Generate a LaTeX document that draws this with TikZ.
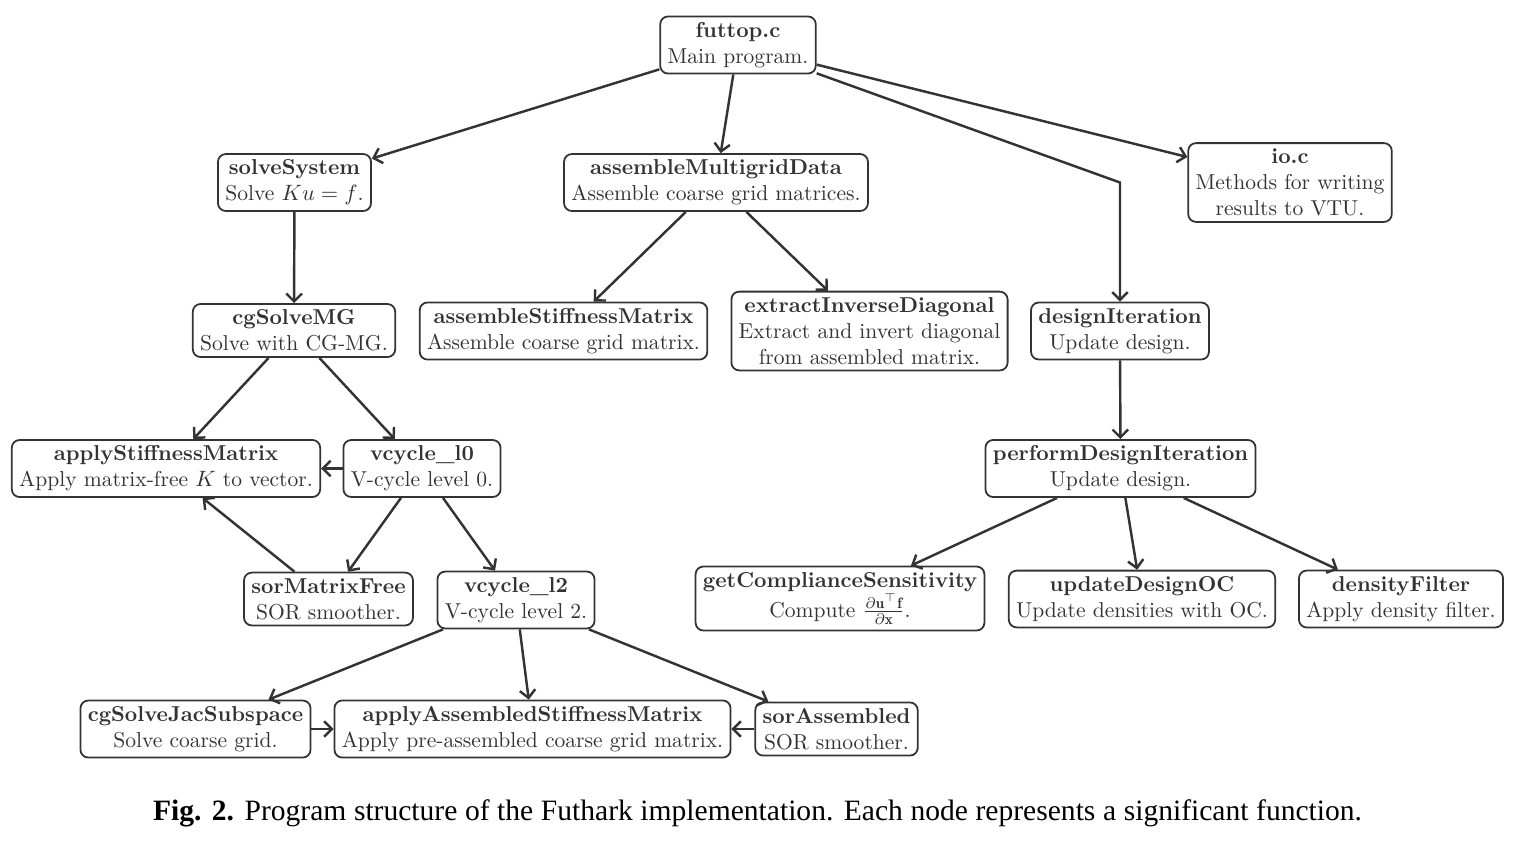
\documentclass[tikz,border=0pt]{standalone}
\usepackage{fontspec}
\usepackage{amsmath}
\newfontfamily\capfont{Liberation Serif}
\usetikzlibrary{arrows.meta}
\definecolor{ink}{HTML}{333333}
\begin{document}
\begin{tikzpicture}[x=0.45pt,y=-0.45pt,
  fn/.style={draw=ink, line width=0.8pt, rounded corners=3.5pt, align=center,
    text=ink, inner xsep=3.3pt, inner ysep=2.6pt, font=\fontsize{9.7}{11.7}\selectfont},
  link/.style={draw=ink, line width=1.1pt, -{Straight Barb[length=3.5pt,width=7pt]}}]
\useasboundingbox (0,0) rectangle (1520,852);
\node[fn] (futtop) at (738,45) {\textbf{futtop.c}\\Main program.};
\node[fn] (solve) at (294.5,182.5) {\textbf{solveSystem}\\Solve $Ku=f$.};
\node[fn] (amd) at (716,182.5) {\textbf{assembleMultigridData}\\Assemble coarse grid matrices.};
\node[fn] (io) at (1290,182.5) {\textbf{io.c}\\Methods for writing\\results to VTU.};
\node[fn] (cgmg) at (294,330.5) {\textbf{cgSolveMG}\\Solve with CG-MG.};
\node[fn] (asm) at (563.5,331) {\textbf{assembleStiffnessMatrix}\\Assemble coarse grid matrix.};
\node[fn] (eid) at (869.5,331) {\textbf{extractInverseDiagonal}\\Extract and invert diagonal\\from assembled matrix.};
\node[fn] (di) at (1120,331) {\textbf{designIteration}\\Update design.};
\node[fn] (asmf) at (166,468.5) {\textbf{applyStiffnessMatrix}\\Apply matrix-free $K$ to vector.};
\node[fn] (v0) at (422,468.5) {\textbf{vcycle\_l0}\\V-cycle level 0.};
\node[fn] (pdi) at (1120.5,468.5) {\textbf{performDesignIteration}\\Update design.};
\node[fn] (sorf) at (328.5,599) {\textbf{sorMatrixFree}\\SOR smoother.};
\node[fn] (v2) at (516,600) {\textbf{vcycle\_l2}\\V-cycle level 2.};
\node[fn] (gcs) at (840,598.5) {\textbf{getComplianceSensitivity}\\Compute $\frac{\partial\mathbf{u}^{\top}\mathbf{f}}{\partial\mathbf{x}}$.};
\node[fn] (udoc) at (1142,599) {\textbf{updateDesignOC}\\Update densities with OC.};
\node[fn] (dfil) at (1401,599) {\textbf{densityFilter}\\Apply density filter.};
\node[fn] (cgjs) at (195.5,729) {\textbf{cgSolveJacSubspace}\\Solve coarse grid.};
\node[fn] (aasm) at (532.5,729) {\textbf{applyAssembledStiffnessMatrix}\\Apply pre-assembled coarse grid matrix.};
\node[fn] (sora) at (836.5,729) {\textbf{sorAssembled}\\SOR smoother.};
\coordinate (bend) at (1120,182.5);
\draw[link] (futtop) -- (solve);
\draw[link] (futtop) -- (amd);
\draw[link] (futtop) -- (io);
\draw[link] (futtop) -- (bend) -- (di);
\draw[link] (solve) -- (cgmg);
\draw[link] (amd) -- (asm);
\draw[link] (amd) -- (eid);
\draw[link] (di) -- (pdi);
\draw[link] (cgmg) -- (asmf);
\draw[link] (cgmg) -- (v0);
\draw[link] (v0) -- (asmf);
\draw[link] (v0) -- (sorf);
\draw[link] (v0) -- (v2);
\draw[link] (sorf) -- (asmf);
\draw[link] (v2) -- (cgjs);
\draw[link] (v2) -- (aasm);
\draw[link] (v2) -- (sora);
\draw[link] (cgjs) -- (aasm);
\draw[link] (sora) -- (aasm);
\draw[link] (pdi) -- (gcs);
\draw[link] (pdi) -- (udoc);
\draw[link] (pdi) -- (dfil);
\node[anchor=base, inner sep=0pt, font=\capfont\fontsize{13.3}{16}\selectfont] (cap) at (757.5,820)
  {\makebox[544pt][s]{\textbf{Fig. 2.} Program structure of the Futhark implementation. Each node represents a significant function.}};
\end{tikzpicture}
\end{document}
